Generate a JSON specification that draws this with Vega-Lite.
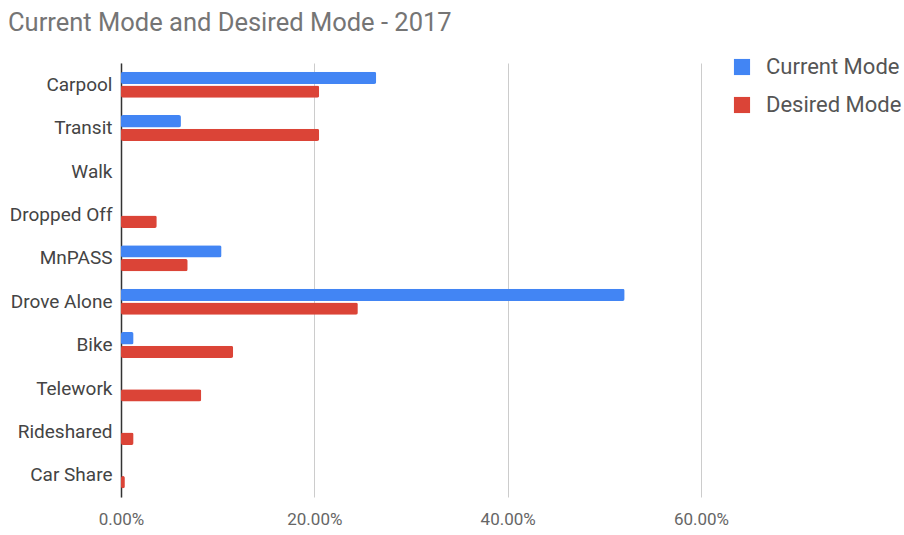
{
  "$schema": "https://vega.github.io/schema/vega-lite/v6.json",
  "width": 580,
  "height": 434,
  "autosize": {"type": "none"},
  "padding": {"left": 121, "top": 63, "right": 203, "bottom": 38},
  "background": "white",
  "title": {
    "text": "Current Mode and Desired Mode - 2017",
    "anchor": "start",
    "frame": "group",
    "dx": -113,
    "offset": 20,
    "font": "Roboto",
    "fontSize": 25.5,
    "fontWeight": "normal",
    "color": "#757575"
  },
  "data": {
    "values": [
      {"mode": "Carpool", "series": "Current Mode", "value": 0.264},
      {"mode": "Carpool", "series": "Desired Mode", "value": 0.205},
      {"mode": "Transit", "series": "Current Mode", "value": 0.062},
      {"mode": "Transit", "series": "Desired Mode", "value": 0.205},
      {"mode": "Walk", "series": "Current Mode", "value": 0},
      {"mode": "Walk", "series": "Desired Mode", "value": 0},
      {"mode": "Dropped Off", "series": "Current Mode", "value": 0},
      {"mode": "Dropped Off", "series": "Desired Mode", "value": 0.037},
      {"mode": "MnPASS", "series": "Current Mode", "value": 0.104},
      {"mode": "MnPASS", "series": "Desired Mode", "value": 0.069},
      {"mode": "Drove Alone", "series": "Current Mode", "value": 0.521},
      {"mode": "Drove Alone", "series": "Desired Mode", "value": 0.245},
      {"mode": "Bike", "series": "Current Mode", "value": 0.013},
      {"mode": "Bike", "series": "Desired Mode", "value": 0.116},
      {"mode": "Telework", "series": "Current Mode", "value": 0},
      {"mode": "Telework", "series": "Desired Mode", "value": 0.083},
      {"mode": "Rideshared", "series": "Current Mode", "value": 0},
      {"mode": "Rideshared", "series": "Desired Mode", "value": 0.013},
      {"mode": "Car Share", "series": "Current Mode", "value": 0},
      {"mode": "Car Share", "series": "Desired Mode", "value": 0.004}
    ]
  },
  "mark": {"type": "bar", "cornerRadius": 2},
  "encoding": {
    "y": {
      "field": "mode",
      "type": "nominal",
      "sort": ["Carpool", "Transit", "Walk", "Dropped Off", "MnPASS", "Drove Alone", "Bike", "Telework", "Rideshared", "Car Share"],
      "scale": {"paddingInner": 0.4, "paddingOuter": 0.2},
      "axis": {
        "title": null,
        "ticks": false,
        "domain": true,
        "domainColor": "#333333",
        "domainWidth": 1.5,
        "labelFont": "Roboto",
        "labelFontSize": 19,
        "labelColor": "#444444",
        "labelPadding": 9
      }
    },
    "yOffset": {
      "field": "series",
      "type": "nominal",
      "sort": ["Current Mode", "Desired Mode"],
      "scale": {"paddingInner": 0.1}
    },
    "x": {
      "field": "value",
      "type": "quantitative",
      "scale": {"domain": [0, 0.6], "nice": false},
      "axis": {
        "title": null,
        "format": ".2%",
        "values": [0, 0.2, 0.4, 0.6],
        "domain": false,
        "ticks": false,
        "grid": true,
        "gridColor": "#cccccc",
        "labelFlush": false,
        "labelFont": "Roboto",
        "labelFontSize": 17,
        "labelColor": "#666666",
        "labelPadding": 14
      }
    },
    "color": {
      "field": "series",
      "type": "nominal",
      "sort": ["Current Mode", "Desired Mode"],
      "scale": {"domain": ["Current Mode", "Desired Mode"], "range": ["#4285F4", "#DB4437"]},
      "legend": {
        "title": null,
        "orient": "none",
        "legendX": 610,
        "legendY": -7,
        "symbolType": "square",
        "symbolSize": 260,
        "symbolStrokeWidth": 0,
        "labelFont": "Roboto",
        "labelFontSize": 22,
        "labelColor": "#555555",
        "rowPadding": 16,
        "labelOffset": 13
      }
    }
  },
  "config": {
    "view": {"stroke": null}
  }
}
